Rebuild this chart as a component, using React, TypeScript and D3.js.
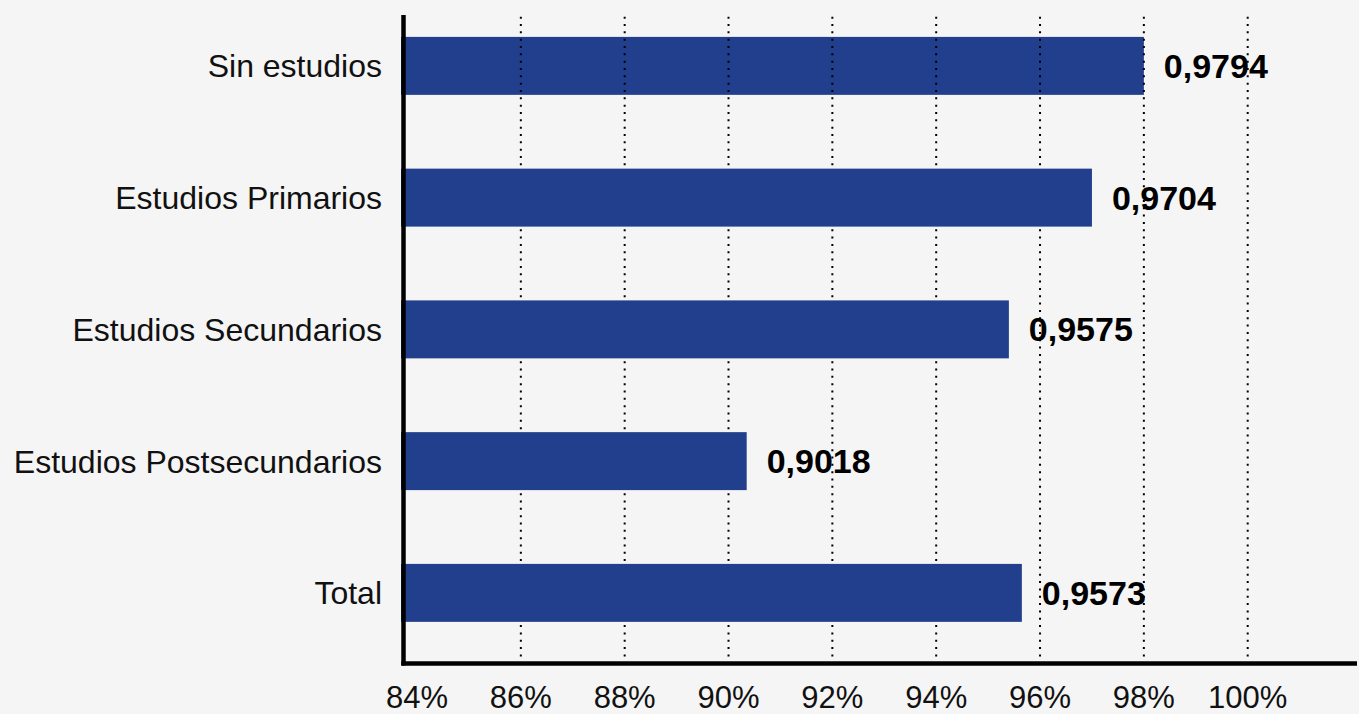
import React from "react";
import * as d3 from "d3";

const categories = [
  "Sin estudios",
  "Estudios Primarios",
  "Estudios Secundarios",
  "Estudios Postsecundarios",
  "Total",
];
// bar lengths as drawn (percent)
const barValues = [98.0, 97.0, 95.4, 90.35, 95.65];
const valueLabels = ["0,9794", "0,9704", "0,9575", "0,9018", "0,9573"];
const tickValues = [84, 86, 88, 90, 92, 94, 96, 98, 100];

const W = 1359;
const H = 714;
const axisX = 403.5;
const axisY = 663.5;
const topY = 15;
const xStart = 83.74;
const FONT = "'Liberation Sans', Arial, Helvetica, sans-serif";
const BAR = "#213f8c";
const BG = "#f5f5f5";

export default function App() {
  const x = d3.scaleLinear().domain([xStart, 100]).range([axisX, 1247.7]);
  const y = d3
    .scaleBand<string>()
    .domain(categories)
    .range([0, 658.75])
    .paddingInner(0.56)
    .paddingOuter(0.28);
  const gridTicks = tickValues.filter((t) => t > 84);
  const first = categories[0];

  const gridLines = (key: string) =>
    gridTicks.map((t) => (
      <line
        key={key + t}
        x1={x(t)}
        x2={x(t)}
        y1={topY + 1.7}
        y2={axisY - 2}
        stroke="#000"
        strokeWidth={2}
        strokeDasharray="2 5.33"
      />
    ));

  return (
    <svg
      width={W}
      height={H}
      style={{ position: "absolute", left: 0, top: 0, display: "block" }}
    >
      <rect x={0} y={0} width={W} height={H} fill={BG} />
      <defs>
        <clipPath id="firstBar">
          <rect
            x={x(xStart)}
            y={y(first)}
            width={x(barValues[0]) - x(xStart)}
            height={y.bandwidth()}
          />
        </clipPath>
      </defs>
      <g>{gridLines("g")}</g>
      <g>
        {categories.map((c, i) => (
          <rect
            key={c}
            x={x(xStart) - 2.5}
            y={y(c)}
            width={x(barValues[i]) - x(xStart) + 2.5}
            height={y.bandwidth()}
            fill={BAR}
          />
        ))}
      </g>
      <g clipPath="url(#firstBar)">{gridLines("f")}</g>
      <g fontFamily={FONT} fontSize={32} fill="#111">
        {categories.map((c) => (
          <text
            key={c}
            x={382}
            y={(y(c) as number) + y.bandwidth() / 2 + 11.5}
            textAnchor="end"
          >
            {c}
          </text>
        ))}
      </g>
      <g fontFamily={FONT} fontSize={34} fontWeight="bold" fill="#000">
        {categories.map((c, i) => (
          <text
            key={c}
            x={x(barValues[i]) + 20}
            y={(y(c) as number) + y.bandwidth() / 2 + 12}
          >
            {valueLabels[i]}
          </text>
        ))}
      </g>
      <g fontFamily={FONT} fontSize={31} fill="#111">
        {tickValues.map((t) => (
          <text
            key={t}
            x={x(t)}
            y={708}
            textAnchor="middle"
          >
            {t + "%"}
          </text>
        ))}
      </g>
      <line x1={axisX} x2={axisX} y1={topY} y2={axisY + 2} stroke="#000" strokeWidth={4.5} />
      <line x1={axisX - 2.25} x2={1357} y1={axisY} y2={axisY} stroke="#000" strokeWidth={4.5} />
    </svg>
  );
}
